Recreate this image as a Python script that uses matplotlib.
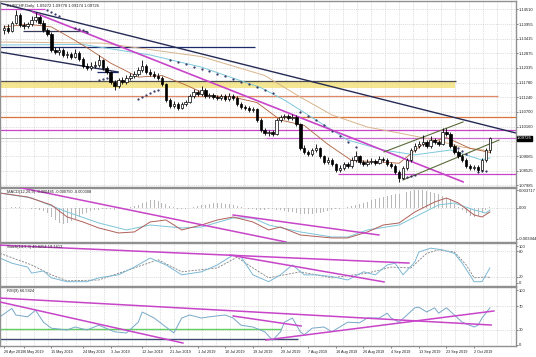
import numpy as np
import matplotlib.pyplot as plt
from matplotlib.transforms import blended_transform_factory

plt.rcParams['font.family'] = ['Liberation Sans', 'DejaVu Sans']

# ---------------- data ----------------
closes = [1.1380, 1.1370, 1.1400, 1.1430, 1.1392, 1.1388, 1.1395, 1.1410, 1.1420, 1.1400,
          1.1372, 1.1360, 1.1299, 1.1292, 1.1300, 1.1281, 1.1284, 1.1275, 1.1290, 1.1268,
          1.1240, 1.1232, 1.1240, 1.1245, 1.1262, 1.1232, 1.1218, 1.1181, 1.1166, 1.1188,
          1.1181, 1.1196, 1.1203, 1.1210, 1.1225, 1.1240, 1.1218, 1.1210, 1.1203, 1.1196,
          1.1173, 1.1114, 1.1092, 1.1099, 1.1085, 1.1099, 1.1107, 1.1129, 1.1144, 1.1136,
          1.1151, 1.1129, 1.1133, 1.1125, 1.1122, 1.1129, 1.1118, 1.1129, 1.1122, 1.1099,
          1.1088, 1.1085, 1.1077, 1.1081, 1.1040, 1.1003, 1.0992, 1.0996, 1.0988, 1.1040,
          1.1051, 1.1055, 1.1048, 1.1051, 1.1025, 1.0937, 1.0922, 1.0914, 1.0929, 1.0937,
          1.0907, 1.0885, 1.0892, 1.0877, 1.0855, 1.0863, 1.0877, 1.0870, 1.0892, 1.0907,
          1.0885, 1.0877, 1.0885, 1.0889, 1.0881, 1.0896, 1.0892, 1.0877, 1.0870, 1.0848,
          1.0826, 1.0863, 1.0892, 1.0929, 1.0944, 1.0951, 1.0959, 1.0944, 1.0966, 1.0959,
          1.0951, 1.0996, 1.0988, 1.0944, 1.0922, 1.0907, 1.0892, 1.0870, 1.0863, 1.0866,
          1.0855, 1.0892, 1.0929, 1.0973]
highs = [1.1392, 1.1395, 1.1408, 1.1448, 1.1436, 1.1402, 1.1405, 1.1425, 1.1440, 1.1428,
         1.1410, 1.1382, 1.1366, 1.1310, 1.1312, 1.1306, 1.1295, 1.1292, 1.1302, 1.1296,
         1.1274, 1.1252, 1.1256, 1.1260, 1.1280, 1.1268, 1.1240, 1.1222, 1.1190, 1.1196,
         1.1198, 1.1206, 1.1214, 1.1222, 1.1236, 1.1262, 1.1246, 1.1228, 1.1220, 1.1214,
         1.1202, 1.1178, 1.1122, 1.1110, 1.1106, 1.1108, 1.1116, 1.1138, 1.1156, 1.1152,
         1.1166, 1.1158, 1.1142, 1.1140, 1.1134, 1.1138, 1.1136, 1.1140, 1.1136, 1.1128,
         1.1106, 1.1096, 1.1092, 1.1090, 1.1086, 1.1046, 1.1010, 1.1004, 1.1002, 1.1048,
         1.1060, 1.1064, 1.1062, 1.1062, 1.1058, 1.1030, 1.0946, 1.0930, 1.0938, 1.0950,
         1.0942, 1.0912, 1.0902, 1.0898, 1.0882, 1.0872, 1.0886, 1.0884, 1.0902, 1.0926,
         1.0912, 1.0892, 1.0894, 1.0898, 1.0896, 1.0906, 1.0904, 1.0898, 1.0884, 1.0876,
         1.0854, 1.0870, 1.0900, 1.0938, 1.0956, 1.0962, 1.0985, 1.0966, 1.0980, 1.0974,
         1.0966, 1.1010, 1.1012, 1.0994, 1.0950, 1.0928, 1.0914, 1.0898, 1.0876, 1.0874,
         1.0872, 1.0898, 1.0936, 1.0978]
lows = [1.1360, 1.1362, 1.1365, 1.1395, 1.1385, 1.1378, 1.1380, 1.1390, 1.1402, 1.1394,
        1.1366, 1.1352, 1.1292, 1.1284, 1.1282, 1.1272, 1.1270, 1.1266, 1.1270, 1.1260,
        1.1232, 1.1224, 1.1226, 1.1232, 1.1238, 1.1226, 1.1210, 1.1174, 1.1150, 1.1160,
        1.1172, 1.1175, 1.1188, 1.1196, 1.1204, 1.1218, 1.1212, 1.1202, 1.1196, 1.1188,
        1.1166, 1.1106, 1.1084, 1.1084, 1.1076, 1.1080, 1.1092, 1.1102, 1.1122, 1.1128,
        1.1130, 1.1122, 1.1120, 1.1118, 1.1114, 1.1116, 1.1110, 1.1112, 1.1114, 1.1092,
        1.1080, 1.1078, 1.1070, 1.1070, 1.1032, 1.0996, 1.0984, 1.0982, 1.0980, 1.0984,
        1.1034, 1.1044, 1.1040, 1.1042, 1.1018, 1.0928, 1.0914, 1.0906, 1.0908, 1.0920,
        1.0900, 1.0876, 1.0878, 1.0868, 1.0846, 1.0848, 1.0856, 1.0862, 1.0864, 1.0886,
        1.0878, 1.0870, 1.0870, 1.0878, 1.0874, 1.0876, 1.0884, 1.0870, 1.0862, 1.0840,
        1.0812, 1.0820, 1.0856, 1.0886, 1.0920, 1.0936, 1.0944, 1.0936, 1.0938, 1.0950,
        1.0944, 1.0946, 1.0980, 1.0936, 1.0914, 1.0898, 1.0884, 1.0862, 1.0854, 1.0856,
        1.0848, 1.0850, 1.0886, 1.0917]
first_open = 1.1372
opens = [first_open] + closes[:-1]   # daily FX bars open at the previous close

# moving averages, sampled along the lines
fast_idx = [0, 6, 12, 18, 22, 27, 34, 40, 46, 52, 58, 64, 70, 76, 82, 88, 94, 100, 106, 112, 118, 123]
fast_val = [1.1385, 1.1395, 1.1385, 1.1335, 1.1299, 1.1251, 1.1199, 1.1205, 1.1170, 1.1130, 1.1125,
            1.1105, 1.1040, 1.1020, 1.0950, 1.0890, 1.0886, 1.0880, 1.0950, 1.0975, 1.0935, 1.0920]
tan_idx = [-1, 25, 38, 50, 66, 75, 83, 92, 100, 109, 116, 123]
tan_val = [1.1329, 1.1325, 1.1299, 1.1275, 1.1205, 1.1125, 1.1059, 1.1014, 1.0992, 1.0966, 1.0940, 1.0925]
cyan_idx = [-1, 20, 37, 50, 65, 71, 79, 87, 96, 104, 113, 121, 123]
cyan_val = [1.1318, 1.1320, 1.1281, 1.1236, 1.1160, 1.1114, 1.1040, 1.0966, 1.0929, 1.0911, 1.0929, 1.0892, 1.0900]

sar_idx = [11, 12, 13, 14, 18, 19, 20, 21, 24, 25, 26, 27, 34, 35, 36, 37, 38, 39,
           42, 44, 46, 48, 50, 52, 54, 56, 58, 60, 62, 64, 66, 68,
           75, 77, 79, 81, 83, 85, 87, 89, 101, 102, 103, 104, 115, 116, 117, 120, 121, 122]
sar_val = [1.1447, 1.1440, 1.1432, 1.1424, 1.1380, 1.1376, 1.1372, 1.1368, 1.1190, 1.1192, 1.1194, 1.1196,
           1.1118, 1.1125, 1.1132, 1.1139, 1.1146, 1.1151,
           1.1262, 1.1254, 1.1246, 1.1238, 1.1229, 1.1220, 1.1211, 1.1202, 1.1192, 1.1182, 1.1172, 1.1162,
           1.1151, 1.1140,
           1.1070, 1.1055, 1.1040, 1.1020, 1.1000, 1.0980, 1.0960, 1.0940, 1.0826, 1.0828, 1.0832, 1.0836,
           1.0935, 1.0925, 1.0915, 1.0848, 1.0850, 1.0853]

# MACD
macd_idx = [-1, 6, 12, 16, 20, 24, 29, 33, 37, 41, 45, 50, 54, 58, 63, 67, 70, 75, 83, 87,
            92, 96, 100, 104, 109, 112, 115, 119, 121, 123]
macd_val = [0.00277, 0.00204, 0.00056, -0.00167, -0.00259, -0.0037, -0.00463, -0.00444, -0.00259, -0.00222,
            -0.00407, -0.00315, -0.00222, -0.00167, -0.00259, -0.00407, -0.00352, -0.0050, -0.00555, -0.00555,
            -0.00444, -0.00315, -0.00278, -0.00074, 0.00111, 0.00185, 0.00093, -0.0013, -0.00167, -0.00074]
sig_idx = [-1, 7, 16, 24, 31, 37, 45, 50, 58, 63, 67, 75, 83, 87, 92, 100, 104, 110, 114, 119, 122, 123]
sig_val = [0.00277, 0.00185, -0.00074, -0.00278, -0.00407, -0.00315, -0.0037, -0.00352, -0.00185, -0.00185,
           -0.00315, -0.00444, -0.00537, -0.00537, -0.00407, -0.00315, -0.00167, 0.00056, 0.00093, -0.00037,
           -0.00093, -0.00037]
hist_e4 = [0, 0, 1, 1, 1, 0, 0, -1, -2, -3,
           -6, -10, -16, -22, -28, -30,
           -28, -25, -20, -16, -12, -9, -6,
           -4, -3, -2, -1, -2, -3, -2, -1, 0, 1, 3,
           6, 9, 12, 14, 15, 13, 10, 7,
           3, 1, -1, -2, -1, 0, 2, 3, 5,
           6, 8, 9, 10, 9, 8, 7, 5, 3, 2,
           0, -1, -2, -3, -4, -3, -2, -2, -3, -4, -5, -7,
           -8, -9, -11, -12, -12, -11, -10, -9, -8, -6, -4,
           -2, -1, 0, 2,
           4, 6, 8, 10, 12, 14, 16, 18, 20, 22, 24, 25, 26, 28, 30, 32, 33, 34, 33, 32, 30, 28, 26, 22, 18, 14,
           8, 2, -4, -10, -14, -16, -15,
           -10, -4, 2]

# Stochastic
stk_idx = [-1, 2, 6, 7, 10, 12, 16, 21, 24, 29, 33, 37, 41, 45, 50, 54, 58, 60, 63, 67,
           70, 73, 76, 79, 83, 87, 91, 94, 97, 99, 101, 104, 105, 108, 111, 114, 116, 119, 121, 123]
stk_val = [64, 52, 43, 29, 34, 18, 9, 9, 18, 25, 43, 64, 48, 25, 32, 48, 71, 67, 25, 9,
           25, 48, 25, 25, 21, 13, 32, 25, 48, 52, 25, 55, 78, 87, 83, 75, 52, 9, 9, 41]
std_idx = [-1, 7, 12, 16, 24, 33, 39, 45, 54, 59, 63, 67, 75, 83, 92, 98, 103, 107, 110, 114, 117, 119, 122, 123]
std_val = [75, 48, 25, 11, 13, 41, 60, 32, 41, 66, 41, 18, 32, 18, 29, 43, 41, 75, 83, 78, 48, 18, 20, 19]

# RSI
rsi_idx = [-1, 2, 3, 6, 8, 10, 12, 16, 18, 21, 24, 28, 31, 34, 35, 38, 41, 43, 45, 47,
           50, 52, 56, 58, 60, 63, 66, 68, 70, 71, 73, 75, 76, 78, 81, 83, 87, 90, 92, 95,
           97, 98, 100, 102, 104, 105, 107, 109, 110, 112, 114, 116, 119, 120, 121, 123]
rsi_val = [52, 66, 55, 52, 63, 43, 33, 30, 35, 30, 38, 27, 25, 43, 60, 50, 35, 25, 50, 55,
           50, 52, 55, 50, 38, 35, 27, 13, 27, 43, 50, 27, 22, 33, 35, 27, 43, 42, 50, 50,
           58, 50, 43, 55, 67, 68, 60, 67, 58, 67, 55, 43, 35, 38, 50, 67]

price_ticks = [1.14510, 1.13955, 1.13415, 1.12875, 1.12335, 1.11780, 1.11240, 1.10700,
               1.10160, 1.09620, 1.09065, 1.08525, 1.07985]
last_price = 1.09726
date_pos = [0, 5, 12, 20, 27, 35, 42, 49, 56, 63, 70, 77, 84, 91, 98, 105, 112, 119]
date_labels = ['26 Apr 2019', '6 May 2019', '15 May 2019', '24 May 2019', '3 Jun 2019',
               '12 Jun 2019', '21 Jun 2019', '1 Jul 2019', '10 Jul 2019', '19 Jul 2019',
               '29 Jul 2019', '7 Aug 2019', '16 Aug 2019', '26 Aug 2019', '4 Sep 2019',
               '13 Sep 2019', '23 Sep 2019', '2 Oct 2019']

# drawn objects: (bar, price) anchors
navy_upper = [(-1, 1.1473), (129.6, 1.0992)]
navy_lower = [(-1, 1.1292), (28.9, 1.1218)]
magenta_main = [(7.3, 1.1440), (116.2, 1.0811)]
channel_up = [(96.2, 1.0922), (116.2, 1.1033)]
channel_low = [(101.0, 1.0818), (125.3, 1.0966)]
# (price, from bar, to bar, colour)
h_levels = [(1.1451, -1, 10.4, '#c844c8'), (1.1370, 4.8, 21.0, '#3a3a5a'),
            (1.1310, -1, 63.5, '#1f2a6a'), (1.1218, 23.5, 28.9, '#1f2a6a'),
            (1.1185, -1, 114.4, '#505050'), (1.1129, -1, 125.1, '#e08a6a'),
            (1.1051, -1, 130, '#d8743a'), (1.1003, -1, 130, '#c844c8'),
            (1.0974, 66.3, 130, '#c86ad0'), (1.0841, 84.6, 130, '#c844c8')]
yellow_band = (1.1159, 1.1185, -1, 114.2)

macd_lines = [[(3.3, 0.00389), (71.4, -0.0063)], [(58, -0.0013), (94.9, -0.0050)]]
stoch_lines = [[(-1, 94), (102.5, 52.4)], [(57.2, 70.9), (96.2, 8.5)]]
rsi_lines = [[(-1, 83.3), (123.3, 38.3)], [(-1, 76.7), (45.3, 8.3)],
             [(58, 53.3), (75.2, 36.7)], [(66.3, 13.3), (124, 61.7)]]
rsi_green = (31.7, -1, 70.1)
rsi_navy = (15, -1, 74.4)

# ---------------- figure ----------------
W, H = 536, 357
fig = plt.figure(figsize=(W / 100, H / 100), dpi=100)
fig.patch.set_facecolor('white')


def panel(top, bottom):
    return fig.add_axes([0, (H - bottom) / H, 516 / W, (bottom - top) / H])


ax = panel(1, 187)
ax_m = panel(188, 242)
ax_s = panel(243, 286)
ax_r = panel(287, 346)

xmin, xmax = -1.0, 129.6
vgrid = np.arange(0.5, 130, 3.55)
fs = 3.0
for a in (ax, ax_m, ax_s, ax_r):
    a.set_xlim(xmin, xmax)
    a.yaxis.tick_right()
    a.tick_params(axis='y', labelsize=fs, length=1.2, width=0.4, pad=0.8, colors='#202020')
    a.tick_params(axis='x', length=0, labelbottom=False)
    for sp in a.spines.values():
        sp.set_color('#909090')
        sp.set_linewidth(1.0)
    for gx in vgrid:
        a.axvline(gx, color='#c4c4c4', lw=0.4, ls=(0, (2, 2)), zorder=0)

# ---- main price panel
ax.set_ylim(1.0792, 1.1481)
ax.set_yticks(price_ticks)
ax.set_yticklabels(['' if p == 1.09620 else '%.5f' % p for p in price_ticks])
for p in price_ticks:
    ax.axhline(p, color='#c4c4c4', lw=0.4, ls=(0, (2, 2)), zorder=0)

lo, hi, x0, x1 = yellow_band
ax.fill_between([x0, x1], lo, hi, color='#f3e07a', alpha=0.8, lw=0, zorder=1)
for price, a0, a1, col in h_levels:
    ax.hlines(price, a0, a1, color=col, lw=0.9, zorder=2)
ax.axhline(last_price, color='#a0a0a0', lw=0.5, zorder=1)

ax.plot(tan_idx, tan_val, color='#d8b48c', lw=0.7, zorder=2)
ax.plot(cyan_idx, cyan_val, color='#7cc8dc', lw=0.7, zorder=2)
ax.plot(fast_idx, fast_val, color='#b0603c', lw=0.6, zorder=2)
ax.plot(sar_idx, sar_val, ls='none', marker='o', ms=0.6, color='#303060', zorder=3)

for line, col, lw in [(navy_upper, '#252b55', 1.0), (navy_lower, '#252b55', 1.0),
                      (magenta_main, '#c844c8', 1.2), (channel_up, '#5a6b3a', 0.8),
                      (channel_low, '#5a6b3a', 0.8)]:
    (xa, ya), (xb, yb) = line
    ax.plot([xa, xb], [ya, yb], color=col, lw=lw, zorder=2.5)

x = np.arange(len(closes))
o = np.array(opens)
c = np.array(closes)
up = c >= o
ax.vlines(x, lows, highs, color='black', lw=0.6, zorder=4)
ax.bar(x[up], np.maximum((c - o)[up], 0.00008), bottom=o[up], width=0.62,
       color='white', edgecolor='black', lw=0.5, zorder=5)
ax.bar(x[~up], np.maximum((o - c)[~up], 0.00008), bottom=c[~up], width=0.62,
       color='black', edgecolor='black', lw=0.5, zorder=5)

ax.text(0.013, 0.985, 'EURCHF,Daily  1.09272 1.09778 1.09174 1.09726', transform=ax.transAxes,
        fontsize=3.0, va='top', ha='left', color='#202020', zorder=6)
tr = blended_transform_factory(ax.transAxes, ax.transData)
ax.text(1.002, last_price, '1.09726', transform=tr, fontsize=fs, color='white', va='center',
        ha='left', zorder=10, clip_on=False,
        bbox=dict(boxstyle='square,pad=0.12', fc='black', ec='black'))

# ---- MACD panel
ax_m.set_ylim(-0.0063, 0.0037)
ax_m.set_yticks([0.0033, 0.0, -0.0057])
ax_m.set_yticklabels(['0.003717', '0.00', '-0.003944'])
ax_m.axhline(0, color='#c4c4c4', lw=0.4, ls=(0, (2, 2)), zorder=0)
ax_m.bar(x, np.array(hist_e4) * 1e-4, width=0.25, color='#b8b8b8', zorder=1)
ax_m.plot(sig_idx, sig_val, color='#7cc4d8', lw=0.7, zorder=2)
ax_m.plot(macd_idx, macd_val, color='#b0605a', lw=0.7, zorder=2)
for (xa, ya), (xb, yb) in macd_lines:
    ax_m.plot([xa, xb], [ya, yb], color='#c844c8', lw=1.1, zorder=3)
ax_m.text(0.013, 0.97, 'MACD(12,26,9) -0.000485 -0.000750 -0.000308', transform=ax_m.transAxes,
          fontsize=2.9, va='top', ha='left', color='#202020')

# ---- Stochastic panel
ax_s.set_ylim(-1, 99)
ax_s.set_yticks([92, 80, 20, 6])
ax_s.set_yticklabels(['100', '80', '20', '0'])
for lv in (80, 20):
    ax_s.axhline(lv, color='#c4c4c4', lw=0.4, ls=(0, (2, 2)), zorder=0)
ax_s.plot(std_idx, std_val, color='#808080', lw=0.6, ls=(0, (2.5, 1.5)), zorder=2)
ax_s.plot(stk_idx, stk_val, color='#7cb8d4', lw=0.7, zorder=2)
for (xa, ya), (xb, yb) in stoch_lines:
    ax_s.plot([xa, xb], [ya, yb], color='#c844c8', lw=1.1, zorder=3)
ax_s.text(0.013, 0.96, 'Stoch(14,3,3) 40.8254 19.1613', transform=ax_s.transAxes,
          fontsize=2.9, va='top', ha='left', color='#202020')

# ---- RSI panel
ax_r.set_ylim(3.3, 101.7)
ax_r.set_yticks([96.5, 70, 30, 5.5])
ax_r.set_yticklabels(['100', '70', '30', '0'])
for lv in (70, 30):
    ax_r.axhline(lv, color='#c4c4c4', lw=0.4, ls=(0, (2, 2)), zorder=0)
lv, a0, a1 = rsi_green
ax_r.hlines(lv, a0, a1, color='#60d060', lw=1.0, zorder=2)
lv, a0, a1 = rsi_navy
ax_r.hlines(lv, a0, a1, color='#404a70', lw=1.0, zorder=2)
ax_r.plot(rsi_idx, rsi_val, color='#78a8c8', lw=0.7, zorder=2)
for (xa, ya), (xb, yb) in rsi_lines:
    ax_r.plot([xa, xb], [ya, yb], color='#c844c8', lw=1.1, zorder=3)
ax_r.text(0.013, 0.965, 'RSI(9) 66.5824', transform=ax_r.transAxes,
          fontsize=2.9, va='top', ha='left', color='#202020')

ax_r.set_xticks(date_pos)
ax_r.set_xticklabels(date_labels, ha='left')
ax_r.tick_params(axis='x', labelbottom=True, labelsize=2.7, length=1.2, width=0.4, pad=1.5,
                 colors='#202020')

fig.savefig('out.png', dpi=100, facecolor='white')
